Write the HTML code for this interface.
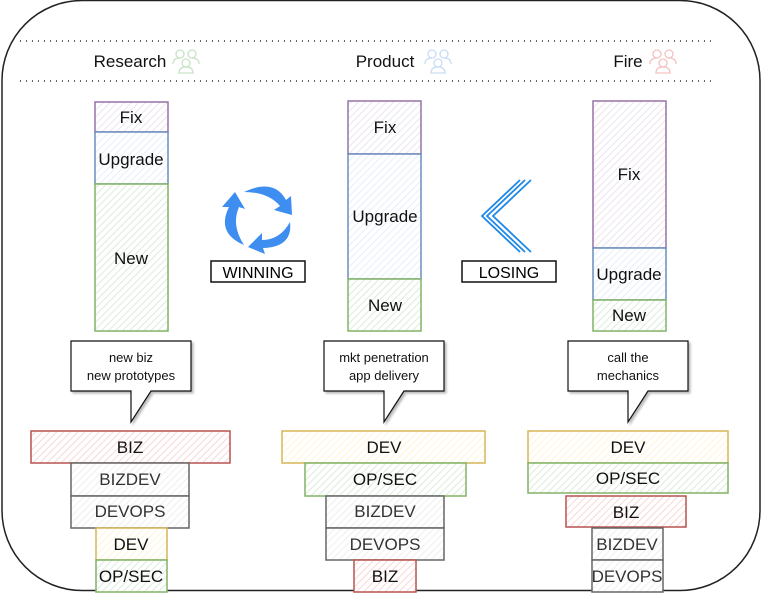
<!DOCTYPE html>
<html><head><meta charset="utf-8"><style>
html,body{margin:0;padding:0;background:#fff;}
svg{display:block;font-family:"Liberation Sans",sans-serif;}
</style></head><body>
<svg width="772" height="603" viewBox="0 0 772 603" xmlns="http://www.w3.org/2000/svg">
<defs>
<pattern id="hr" width="5" height="5" patternUnits="userSpaceOnUse" patternTransform="rotate(45)"><rect width="5" height="5" fill="#fff"/><line x1="0" y1="0" x2="0" y2="5" stroke="#f8d8d6" stroke-width="2"/></pattern>
<pattern id="hy" width="5" height="5" patternUnits="userSpaceOnUse" patternTransform="rotate(45)"><rect width="5" height="5" fill="#fff"/><line x1="0" y1="0" x2="0" y2="5" stroke="#fff4d6" stroke-width="2"/></pattern>
<pattern id="hg" width="5" height="5" patternUnits="userSpaceOnUse" patternTransform="rotate(45)"><rect width="5" height="5" fill="#fff"/><line x1="0" y1="0" x2="0" y2="5" stroke="#dcebdb" stroke-width="2"/></pattern>
<pattern id="hk" width="5" height="5" patternUnits="userSpaceOnUse" patternTransform="rotate(45)"><rect width="5" height="5" fill="#fff"/><line x1="0" y1="0" x2="0" y2="5" stroke="#efefef" stroke-width="2"/></pattern>
<pattern id="hp" width="5" height="5" patternUnits="userSpaceOnUse" patternTransform="rotate(45)"><rect width="5" height="5" fill="#fff"/><line x1="0" y1="0" x2="0" y2="5" stroke="#ebe4ee" stroke-width="2"/></pattern>
<pattern id="hb" width="5" height="5" patternUnits="userSpaceOnUse" patternTransform="rotate(45)"><rect width="5" height="5" fill="#fff"/><line x1="0" y1="0" x2="0" y2="5" stroke="#e6effc" stroke-width="2"/></pattern>
<g id="ppl" fill="none" stroke-width="1.3">
<circle cx="-6" cy="-7" r="4"/><circle cx="6" cy="-7" r="4"/><circle cx="0" cy="2" r="4"/>
<path d="M-13 3 q0 -6 7 -6 M13 3 q0 -6 -7 -6 M-7 12 q0 -6 7 -6 q7 0 7 6 z"/>
</g>
</defs>
<rect x="2" y="0.5" width="758" height="590" rx="80" fill="#fff" stroke="#222" stroke-width="1.5"/>
<line x1="20" y1="41" x2="712" y2="41" stroke="#333" stroke-width="1.5" stroke-dasharray="1 5"/>
<line x1="20" y1="81" x2="712" y2="81" stroke="#333" stroke-width="1.5" stroke-dasharray="1 5"/>
<g font-size="17" fill="#111" text-anchor="middle">
<text x="130" y="67">Research</text><text x="385" y="67">Product</text><text x="628" y="67">Fire</text>
</g>
<use href="#ppl" x="186" y="61" stroke="#c8e3c6"/>
<use href="#ppl" x="438" y="61" stroke="#c9dcf5"/>
<use href="#ppl" x="663" y="61" stroke="#f4c2c0"/>

<g font-size="17" text-anchor="middle" fill="#111">
<rect x="95" y="102" width="73" height="30" fill="url(#hp)" stroke="#9673a6" stroke-width="1.5"/><text x="131" y="123">Fix</text>
<rect x="95" y="132" width="73" height="52" fill="url(#hb)" stroke="#6c8ebf" stroke-width="1.5"/><text x="131" y="165">Upgrade</text>
<rect x="95" y="184" width="73" height="147" fill="url(#hg)" stroke="#82b366" stroke-width="1.5"/><text x="131" y="264">New</text>

<rect x="348" y="101" width="73" height="53" fill="url(#hp)" stroke="#9673a6" stroke-width="1.5"/><text x="385" y="133">Fix</text>
<rect x="348" y="154" width="73" height="125" fill="url(#hb)" stroke="#6c8ebf" stroke-width="1.5"/><text x="385" y="222">Upgrade</text>
<rect x="348" y="279" width="73" height="52" fill="url(#hg)" stroke="#82b366" stroke-width="1.5"/><text x="385" y="311">New</text>

<rect x="593" y="101" width="73" height="147" fill="url(#hp)" stroke="#9673a6" stroke-width="1.5"/><text x="629" y="180">Fix</text>
<rect x="593" y="248" width="73" height="52" fill="url(#hb)" stroke="#6c8ebf" stroke-width="1.5"/><text x="629" y="280">Upgrade</text>
<rect x="593" y="300" width="73" height="31" fill="url(#hg)" stroke="#82b366" stroke-width="1.5"/><text x="629" y="321">New</text>
</g>

<g fill="#3d8ef0">
<path d="M244 192 q30 -14 42 8 l5 -4 l1 19 l-18 -5 l6 -4 q-12 -14 -36 -14z"/>
<path d="M290 222 q3 25 -27 26 l2 6 l-17 -7 l14 -14 l0 7 q18 0 28 -18z"/>
<path d="M244 245 q-28 -12 -15 -38 l-7 0 l13 -15 l10 17 l-6 -2 q-8 18 5 38z"/>
</g>
<rect x="211" y="261" width="94" height="21" fill="#fff" stroke="#111" stroke-width="1.5"/>
<text x="258" y="278" font-size="16" text-anchor="middle">WINNING</text>

<g fill="none" stroke="#1e88e5" stroke-width="1.8">
<polyline points="520,180 482,216 520,252"/>
<polyline points="525,180 487,216 525,252"/>
<polyline points="531,180 493,216 531,252"/>
</g>
<rect x="462" y="261" width="94" height="21" fill="#fff" stroke="#111" stroke-width="1.5"/>
<text x="509" y="278" font-size="16" text-anchor="middle">LOSING</text>

<g fill="#fff" stroke="#111" stroke-width="1.2" style="filter:drop-shadow(2px 2px 1px #bbb)">
<path d="M71 341 H191 V391 H151 L131 422 L131 391 H71 Z"/>
<path d="M324 341 H444 V391 H404 L384 422 L384 391 H324 Z"/>
<path d="M568 341 H688 V391 H648 L628 422 L628 391 H568 Z"/>
</g>
<g font-size="13" text-anchor="middle" fill="#111">
<text x="131" y="362">new biz</text><text x="131" y="380">new prototypes</text>
<text x="384" y="362">mkt penetration</text><text x="384" y="380">app delivery</text>
<text x="628" y="362">call the</text><text x="628" y="380">mechanics</text>
</g>

<g font-size="17" text-anchor="middle" stroke-width="1.5">
<rect x="31" y="431" width="199" height="32" fill="url(#hr)" stroke="#b85450"/><text x="130" y="453" fill="#111">BIZ</text>
<rect x="71" y="463" width="118" height="33" fill="url(#hk)" stroke="#666"/><text x="130" y="485" fill="#333">BIZDEV</text>
<rect x="71" y="496" width="118" height="32" fill="url(#hk)" stroke="#666"/><text x="130" y="517" fill="#333">DEVOPS</text>
<rect x="96" y="528" width="71" height="32" fill="url(#hy)" stroke="#d6b656"/><text x="131" y="550" fill="#111">DEV</text>
<rect x="96" y="560" width="71" height="32" fill="url(#hg)" stroke="#82b366"/><text x="131" y="582" fill="#111">OP/SEC</text>

<rect x="282" y="431" width="203" height="32" fill="url(#hy)" stroke="#d6b656"/><text x="384" y="453" fill="#111">DEV</text>
<rect x="305" y="463" width="161" height="33" fill="url(#hg)" stroke="#82b366"/><text x="385" y="485" fill="#111">OP/SEC</text>
<rect x="326" y="496" width="118" height="32" fill="url(#hk)" stroke="#666"/><text x="385" y="517" fill="#333">BIZDEV</text>
<rect x="326" y="528" width="118" height="32" fill="url(#hk)" stroke="#666"/><text x="385" y="550" fill="#333">DEVOPS</text>
<rect x="354" y="560" width="62" height="32" fill="url(#hr)" stroke="#b85450"/><text x="385" y="582" fill="#111">BIZ</text>

<rect x="528" y="431" width="200" height="32" fill="url(#hy)" stroke="#d6b656"/><text x="628" y="453" fill="#111">DEV</text>
<rect x="528" y="463" width="200" height="30" fill="url(#hg)" stroke="#82b366"/><text x="628" y="484" fill="#111">OP/SEC</text>
<rect x="566" y="496" width="120" height="31" fill="url(#hr)" stroke="#b85450"/><text x="626" y="518" fill="#111">BIZ</text>
<rect x="592" y="528" width="71" height="32" fill="url(#hk)" stroke="#666"/><text x="627" y="550" fill="#333">BIZDEV</text>
<rect x="592" y="560" width="71" height="32" fill="url(#hk)" stroke="#666"/><text x="627" y="582" fill="#333">DEVOPS</text>
</g>
</svg>
</body></html>
